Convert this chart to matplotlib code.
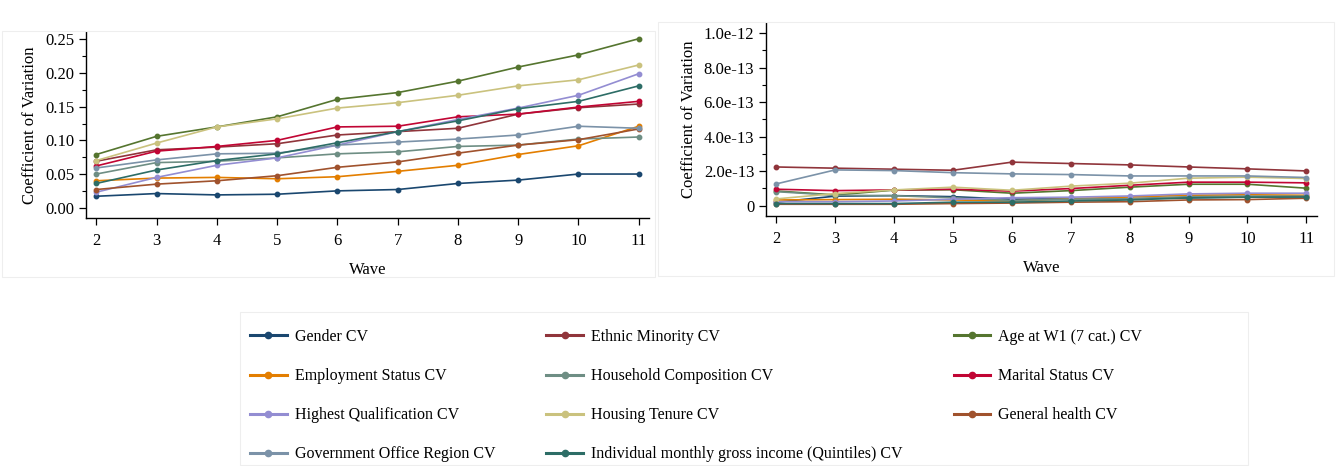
import numpy as np
import matplotlib
matplotlib.use("Agg")
import matplotlib.pyplot as plt
from matplotlib.patches import Rectangle
from matplotlib.ticker import MultipleLocator, FuncFormatter

plt.rcParams['font.family'] = ['Liberation Serif', 'DejaVu Serif']

waves = [2, 3, 4, 5, 6, 7, 8, 9, 10, 11]

labels = ['Gender CV', 'Ethnic Minority CV', 'Age at W1 (7 cat.) CV',
          'Employment Status CV', 'Household Composition CV', 'Marital Status CV',
          'Highest Qualification CV', 'Housing Tenure CV', 'General health CV',
          'Government Office Region CV',
          'Individual monthly gross income (Quintiles) CV']

colors = ['#1a476f', '#90353b', '#55752f', '#e37e00', '#6e8e84', '#c10534',
          '#938dd2', '#cac27e', '#a0522d', '#7b92a8', '#2d6d66']

# left panel: coefficient of variation
gender_l = [0.017, 0.021, 0.019, 0.020, 0.025, 0.027, 0.036, 0.041, 0.050, 0.050]
ethnic_l = [0.069, 0.086, 0.090, 0.095, 0.108, 0.113, 0.118, 0.139, 0.1485, 0.154]
age_l = [0.079, 0.106, 0.120, 0.135, 0.161, 0.171, 0.188, 0.209, 0.227, 0.251]
employ_l = [0.040, 0.044, 0.045, 0.043, 0.046, 0.054, 0.063, 0.079, 0.092, 0.121]
household_l = [0.050, 0.067, 0.069, 0.074, 0.080, 0.083, 0.091, 0.093, 0.102, 0.105]
marital_l = [0.062, 0.084, 0.091, 0.100, 0.120, 0.121, 0.135, 0.139, 0.1495, 0.158]
qual_l = [0.023, 0.045, 0.063, 0.074, 0.093, 0.113, 0.131, 0.148, 0.167, 0.199]
tenure_l = [0.070, 0.096, 0.120, 0.132, 0.148, 0.156, 0.167, 0.181, 0.190, 0.212]
health_l = [0.027, 0.035, 0.040, 0.0475, 0.060, 0.068, 0.081, 0.093, 0.101, 0.117]
gor_l = [0.059, 0.071, 0.080, 0.081, 0.093, 0.0975, 0.102, 0.108, 0.121, 0.118]
income_l = [0.036, 0.056, 0.070, 0.080, 0.0965, 0.113, 0.129, 0.147, 0.158, 0.181]

# right panel: values in units of 1e-13
gender_r = [0.20, 0.55, 0.58, 0.52, 0.37, 0.40, 0.40, 0.45, 0.50, 0.52]
ethnic_r = [2.24, 2.17, 2.11, 2.05, 2.52, 2.44, 2.36, 2.24, 2.13, 2.01]
age_r = [0.85, 0.62, 0.90, 0.92, 0.72, 0.87, 1.07, 1.24, 1.24, 1.01]
employ_r = [0.33, 0.35, 0.37, 0.33, 0.27, 0.40, 0.50, 0.60, 0.63, 0.60]
household_r = [0.81, 0.60, 0.58, 0.45, 0.30, 0.38, 0.40, 0.52, 0.55, 0.55]
marital_r = [0.95, 0.87, 0.91, 0.95, 0.84, 0.99, 1.18, 1.36, 1.36, 1.32]
qual_r = [0.23, 0.23, 0.27, 0.37, 0.46, 0.49, 0.56, 0.68, 0.72, 0.72]
tenure_r = [0.39, 0.70, 0.91, 1.07, 0.89, 1.13, 1.30, 1.59, 1.65, 1.57]
health_r = [0.08, 0.08, 0.08, 0.12, 0.15, 0.20, 0.23, 0.33, 0.35, 0.43]
gor_r = [1.26, 2.07, 2.03, 1.91, 1.84, 1.80, 1.72, 1.72, 1.72, 1.63]
income_r = [0.12, 0.12, 0.12, 0.20, 0.20, 0.27, 0.33, 0.45, 0.49, 0.50]

left_series = [gender_l, ethnic_l, age_l, employ_l, household_l, marital_l,
               qual_l, tenure_l, health_l, gor_l, income_l]
right_series = [gender_r, ethnic_r, age_r, employ_r, household_r, marital_r,
                qual_r, tenure_r, health_r, gor_r, income_r]

W, H = 1336, 466
fig = plt.figure(figsize=(W / 100, H / 100), dpi=100)

def box(x0, y0, x1, y1):
    # pixel box -> figure fraction
    return [x0 / W, 1 - y1 / H, (x1 - x0) / W, (y1 - y0) / H]

# faint panel frames
for x0, y0, x1, y1 in [(2, 31, 655, 277), (658, 22, 1334, 276), (240, 312, 1248, 465)]:
    fig.patches.append(Rectangle((x0 / W, 1 - y1 / H), (x1 - x0) / W, (y1 - y0) / H,
                                 transform=fig.transFigure, fill=False,
                                 edgecolor='#eeeeee', linewidth=0.8))

ax1 = fig.add_axes(box(86, 32, 649, 218))
ax2 = fig.add_axes(box(766, 23, 1317, 216))

handles = []
for ax, data in [(ax1, left_series), (ax2, right_series)]:
    for i, vals in enumerate(data):
        h, = ax.plot(waves, vals, color=colors[i], lw=1.2, marker='o',
                     ms=3.2, label=labels[i])
        if ax is ax1:
            handles.append(h)

for ax in (ax1, ax2):
    for s in ('top', 'right'):
        ax.spines[s].set_visible(False)
    ax.spines['left'].set_linewidth(1.0)
    ax.spines['bottom'].set_linewidth(1.0)
    ax.set_xticks(waves)
    ax.tick_params(axis='both', which='major', labelsize=12, length=5, width=0.9)
    ax.tick_params(axis='x', which='major', pad=6)
    ax.tick_params(axis='y', which='minor', length=3, width=0.8)
    ax.set_xlabel('Wave', fontsize=12, labelpad=9)
    ax.set_ylabel('Coefficient of Variation', fontsize=12, labelpad=5)

ax1.set_xlim(1.83, 11.17)
ax1.set_ylim(-0.0153, 0.261)
ax1.yaxis.set_major_locator(MultipleLocator(0.05))
ax1.yaxis.set_minor_locator(MultipleLocator(0.025))
ax1.yaxis.set_major_formatter(FuncFormatter(lambda v, p: f'{v:.2f}'))

ax2.set_xlim(1.825, 11.18)
ax2.set_ylim(-0.6, 10.58)
ax2.yaxis.set_major_locator(MultipleLocator(2))
ax2.yaxis.set_minor_locator(MultipleLocator(1))
ax2.yaxis.set_major_formatter(
    FuncFormatter(lambda v, p: '0' if abs(v) < 1e-9 else f'{v * 1e-13:.1e}'))

# legend, filled row by row like the original
order = [0, 3, 6, 9, 1, 4, 7, 10, 2, 5, 8]
leg = fig.legend([handles[i] for i in order], [labels[i] for i in order],
                 ncol=3, loc='upper left', bbox_to_anchor=(250 / W, 1 - 329 / H),
                 frameon=False, fontsize=11.5, handlelength=2.3, handletextpad=0.5,
                 columnspacing=3.2, labelspacing=1.45, borderaxespad=0,
                 borderpad=0)
for lh in leg.legend_handles:
    lh.set_linewidth(2.2)
    lh.set_markersize(4.5)

fig.savefig('out.png', dpi=100)
